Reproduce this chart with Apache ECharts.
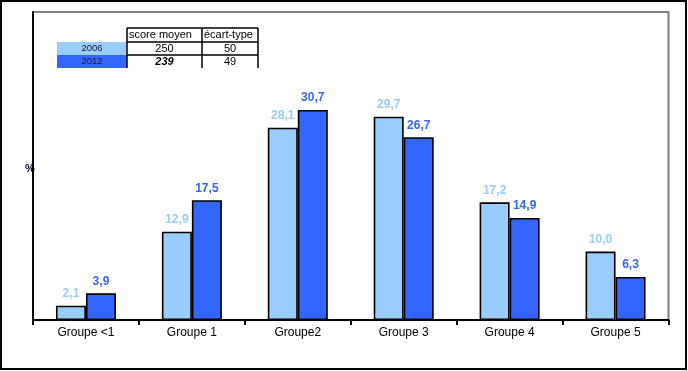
<!DOCTYPE html>
<html><head><meta charset="utf-8">
<script src="https://cdn.jsdelivr.net/npm/echarts@6/dist/echarts.min.js"></script>
<style>html,body{margin:0;padding:0;background:#fff}#c{width:688px;height:371px}</style>
</head><body><div id="c"></div>
<script>
var categories = ['Groupe <1', 'Groupe 1', 'Groupe2', 'Groupe 3', 'Groupe 4', 'Groupe 5'];
var years = ['2006', '2012'];
var values2006 = [2.1, 12.9, 28.1, 29.7, 17.2, 10.0];
var values2012 = [3.9, 17.5, 30.7, 26.7, 14.9, 6.3];
var tableHeader = ['score moyen', 'écart-type'];
var scoreMoyen = ['250', '239'];
var ecartType = ['50', '49'];

var colors = ['#99CCFF', '#3366FF'];
function fmt(p){ return p.value.toFixed(1).replace('.', ','); }

var chart = echarts.init(document.getElementById('c'));
var F = 'Liberation Sans, Arial, sans-serif';

var colX = [57, 127, 202, 258];
var rowY = [28, 42, 55, 68];
var g = [];
g.push({type:'rect', shape:{x:1, y:1, width:685, height:368}, style:{fill:'none', stroke:'#000', lineWidth:2}, z:100});
g.push({type:'rect', shape:{x:colX[0], y:rowY[1], width:colX[1]-colX[0], height:rowY[2]-rowY[1]}, style:{fill:colors[0]}});
g.push({type:'rect', shape:{x:colX[0], y:rowY[2], width:colX[1]-colX[0], height:rowY[3]-rowY[2]}, style:{fill:colors[1]}});
[rowY[0], rowY[1], rowY[2]].forEach(function(y){
  g.push({type:'line', shape:{x1:colX[1], y1:y, x2:colX[3], y2:y}, style:{stroke:'#000', lineWidth:1.5}});
});
[colX[1], colX[2], colX[3]].forEach(function(x){
  g.push({type:'line', shape:{x1:x, y1:rowY[0], x2:x, y2:rowY[3]}, style:{stroke:'#000', lineWidth:1.5}});
});
g.push({type:'text', x:colX[1]+2, y:(rowY[0]+rowY[1])/2, style:{text:tableHeader[0], font:'11px '+F, fill:'#000', textVerticalAlign:'middle'}});
g.push({type:'text', x:colX[2]+2, y:(rowY[0]+rowY[1])/2, style:{text:tableHeader[1], font:'11px '+F, fill:'#000', textVerticalAlign:'middle'}});
for (var r = 0; r < 2; r++) {
  var cy = (rowY[r+1] + rowY[r+2]) / 2;
  g.push({type:'text', x:(colX[0]+colX[1])/2, y:cy, style:{text:years[r], font:'9.5px '+F, fill:'#1a1a33', textAlign:'center', textVerticalAlign:'middle'}});
  g.push({type:'text', x:(colX[1]+colX[2])/2, y:cy, style:{text:scoreMoyen[r], font:(r===1?'italic bold ':'')+'11px '+F, fill:'#000', textAlign:'center', textVerticalAlign:'middle'}});
  g.push({type:'text', x:(colX[2]+colX[3])/2, y:cy, style:{text:ecartType[r], font:'11px '+F, fill:'#000', textAlign:'center', textVerticalAlign:'middle'}});
}
g.push({type:'text', x:30, y:169, style:{text:'%', font:'bold 11px '+F, fill:'#000033', textAlign:'center', textVerticalAlign:'middle'}, z:50});

chart.setOption({
  animation:false,
  grid:{left:33, right:19.5, top:12, bottom:51, show:true, borderColor:'#808080', borderWidth:2, backgroundColor:'transparent'},
  xAxis:{type:'category', data:categories,
    axisLine:{lineStyle:{color:'#000', width:2}},
    axisTick:{show:true, length:5, lineStyle:{color:'#000', width:2}},
    axisLabel:{color:'#000', fontSize:12, fontFamily:F, margin:7}},
  yAxis:{type:'value', min:0, max:45, axisLine:{show:true, lineStyle:{color:'#000', width:2}},
    axisTick:{show:false}, axisLabel:{show:false}, splitLine:{show:false}},
  series:[
    {name:years[0], type:'bar', data:values2006, barWidth:30, barGap:'0%',
     itemStyle:{color:colors[0], borderColor:'#000', borderWidth:1.6},
     label:{show:true, position:'top', distance:6, formatter:fmt, color:colors[0], fontWeight:'bold', fontSize:12, fontFamily:F}},
    {name:years[1], type:'bar', data:values2012, barWidth:30, barGap:'0%',
     itemStyle:{color:colors[1], borderColor:'#000', borderWidth:1.6},
     label:{show:true, position:'top', distance:6, formatter:fmt, color:colors[1], fontWeight:'bold', fontSize:12, fontFamily:F}}
  ],
  graphic:g
});
</script></body></html>
